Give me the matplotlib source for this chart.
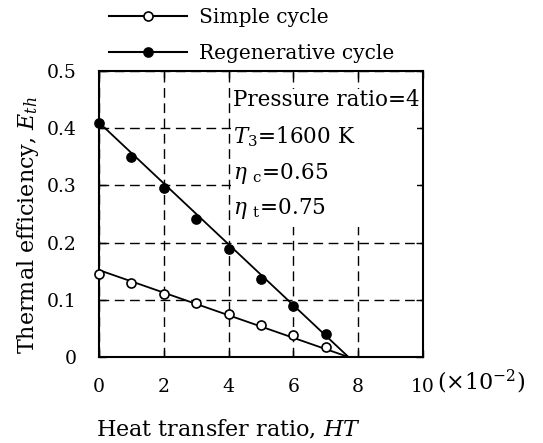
import numpy as np
import matplotlib
matplotlib.use("Agg")
import matplotlib.pyplot as plt
from matplotlib.patches import Rectangle

plt.rcParams['font.family'] = ['DejaVu Serif']
plt.rcParams['mathtext.fontset'] = 'dejavuserif'

# heat transfer ratio (x 10^-2)
ht = [0, 1, 2, 3, 4, 5, 6, 7]
simple_eff = [0.145, 0.129, 0.111, 0.094, 0.075, 0.056, 0.038, 0.018]
regen_eff = [0.409, 0.350, 0.296, 0.242, 0.188, 0.136, 0.089, 0.041]

# fitted straight lines
fit_ht = [0, 7.7]
simple_fit = [0.152, 0.0]
regen_fit = [0.410, 0.0]

xticks = [0, 2, 4, 6, 8, 10]
yticks = [0, 0.1, 0.2, 0.3, 0.4, 0.5]
yticklabels = ['0', '0.1', '0.2', '0.3', '0.4', '0.5']

fig = plt.figure(figsize=(5.43, 4.43), dpi=100)
ax = fig.add_axes([0.1823, 0.1941, 0.5967, 0.6456])

ax.plot(fit_ht, simple_fit, color='black', lw=1.3, zorder=3)
ax.plot(fit_ht, regen_fit, color='black', lw=1.3, zorder=3)
ax.plot(ht, simple_eff, 'o', ms=6.5, mfc='white', mec='black', mew=1.2, clip_on=False, zorder=4)
ax.plot(ht, regen_eff, 'o', ms=6.5, mfc='black', mec='black', mew=1.2, clip_on=False, zorder=4)

ax.set_xlim(0, 10)
ax.set_ylim(0, 0.5)
ax.set_xticks(xticks)
ax.set_yticks(yticks)
ax.set_yticklabels(yticklabels)
ax.tick_params(direction='in', length=5, width=1, top=True, right=True,
               labelsize=13.5, pad=16)
ax.tick_params(axis='x', pad=15)
ax.grid(True, color='black', linestyle=(0, (7, 4)), lw=1)
for s in ax.spines.values():
    s.set_linewidth(1.5)

# white box behind the condition text
ax.add_patch(Rectangle((4.08, 0.228), 5.75, 0.24, facecolor='white',
                       edgecolor='none', zorder=2))

ax.set_xlabel('Heat transfer ratio, $HT$', fontsize=16)
ax.set_ylabel('Thermal efficiency, $E_{th}$', fontsize=16)
ax.xaxis.set_label_coords(0.40, -0.215)
ax.yaxis.set_label_coords(-0.18, 0.46)

ax.text(0.414, 0.899, 'Pressure ratio=4', transform=ax.transAxes, fontsize=15.5,
        va='center', ha='left', zorder=5)
ax.text(0.414, 0.769, '$T_3$=1600 K', transform=ax.transAxes, fontsize=15.5,
        va='center', ha='left', zorder=5)
ax.text(0.414, 0.643, r'$\eta\ _{\rm c}$=0.65', transform=ax.transAxes, fontsize=15.5,
        va='center', ha='left', zorder=5)
ax.text(0.414, 0.521, r'$\eta\ _{\rm t}$=0.75', transform=ax.transAxes, fontsize=15.5,
        va='center', ha='left', zorder=5)

fig.text(0.805, 0.138, r'$(\times10^{-2})$', fontsize=16, va='center', ha='left')

# legend above the plot
h1, = ax.plot([], [], '-o', color='black', ms=6.5, mfc='white', mew=1.2, lw=1.5)
h2, = ax.plot([], [], '-o', color='black', ms=6.5, mfc='black', mew=1.2, lw=1.5)
fig.legend([h1, h2], ['Simple cycle', 'Regenerative cycle'], loc='upper left',
           bbox_to_anchor=(0.167, 1.022), frameon=False, fontsize=14.5,
           handlelength=3.9, handletextpad=0.6, labelspacing=0.85)

fig.savefig('out.png', dpi=100)
